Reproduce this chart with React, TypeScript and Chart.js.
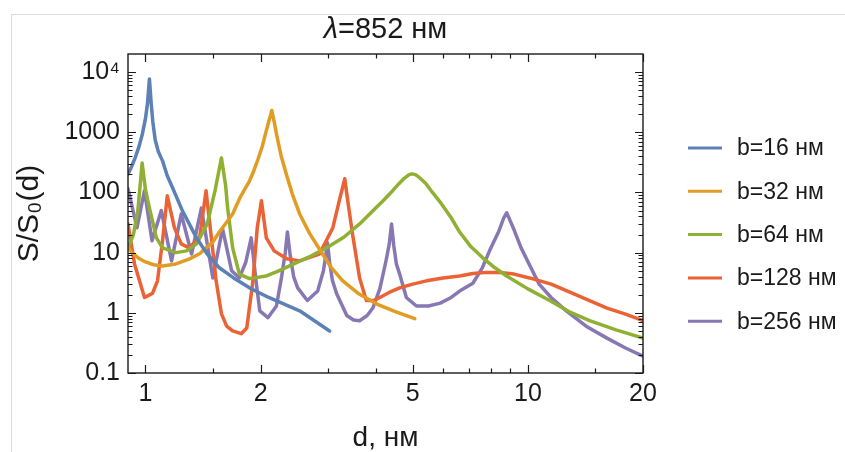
import React, { useEffect, useRef } from "react";
import { Chart, registerables } from "chart.js";

Chart.register(...registerables);

// ---- data ----
const seriesLabels = ["b=16 нм", "b=32 нм", "b=64 нм", "b=128 нм", "b=256 нм"];
const seriesColors = ["#5E81B5", "#E19C24", "#8FB032", "#EB6235", "#8778B3"];

const d16 = [0.9, 0.92, 0.94, 0.96, 0.98, 1.0, 1.012, 1.024, 1.035, 1.045, 1.06, 1.08, 1.108, 1.14, 1.177, 1.25, 1.36, 1.45, 1.56, 1.7, 1.87, 2.1, 2.53, 3.03];
const s16 = [200, 270, 380, 560, 900, 1700, 3000, 7700, 3000, 1500, 750, 480, 335, 190, 120, 49, 17.6, 9.5, 5.6, 3.8, 2.6, 1.8, 1.08, 0.5];

const d32 = [0.9, 0.93, 0.965, 1.0, 1.05, 1.11, 1.2, 1.3, 1.385, 1.44, 1.5, 1.56, 1.63, 1.69, 1.76, 1.82, 1.87, 1.92, 1.97, 2.02, 2.06, 2.1, 2.14, 2.18, 2.2, 2.26, 2.33, 2.42, 2.53, 2.69, 2.85, 3.05, 3.28, 3.6, 4.03, 4.5, 5.06];
const s32 = [12, 9.5, 7.9, 7, 6.3, 6, 6.5, 7.8, 9.6, 12, 15, 22, 32, 44, 78, 115, 155, 230, 360, 580, 950, 1500, 2300, 1300, 940, 420, 210, 95, 44, 20.5, 11.5, 5.8, 3.4, 2.1, 1.4, 1.05, 0.8];

const d64 = [0.9, 0.93, 0.955, 0.98, 1.0, 1.024, 1.068, 1.108, 1.2, 1.28, 1.36, 1.45, 1.52, 1.58, 1.62, 1.64, 1.69, 1.76, 1.87, 2.07, 2.2, 2.42, 2.7, 2.97, 3.3, 3.63, 4.0, 4.2, 4.43, 4.6, 4.75, 4.88, 4.97, 5.08, 5.2, 5.4, 5.63, 5.89, 6.3, 6.63, 7.1, 7.62, 8.2, 8.8, 10, 11.4, 12.8, 14.5, 17, 20];
const s64 = [12, 20, 50, 310, 110, 55, 17.6, 12, 10, 10.7, 14, 30, 107, 375, 130, 55, 12, 4.4, 3.7, 4.1, 4.8, 6.3, 8.7, 12, 18, 30, 55, 75, 107, 140, 172, 196, 204, 198, 178, 142, 100, 70, 38, 22, 12.5, 8.2, 5.6, 4.1, 2.5, 1.6, 1.05, 0.74, 0.52, 0.38];

const d128 = [0.9, 0.936, 0.994, 1.043, 1.075, 1.108, 1.14, 1.19, 1.24, 1.3, 1.385, 1.44, 1.49, 1.53, 1.58, 1.63, 1.69, 1.78, 1.84, 1.91, 1.96, 2.01, 2.07, 2.17, 2.34, 2.53, 2.85, 3.09, 3.21, 3.32, 3.38, 3.48, 3.63, 3.78, 3.95, 4.1, 4.35, 4.62, 5.0, 5.43, 6.0, 6.63, 7.18, 7.8, 8.45, 9.2, 10.1, 11.5, 13.1, 14.5, 16.1, 18, 20];
const s128 = [30, 6.5, 1.8, 2.1, 3.4, 15.7, 88, 26, 14, 12, 17.6, 107, 15.7, 3.4, 0.96, 0.6, 0.5, 0.45, 0.56, 3.4, 26, 73, 17.6, 10.7, 7.9, 7.3, 9.5, 26, 72, 169, 72, 20, 3.8, 1.6, 1.6, 1.8, 2.2, 2.6, 3.0, 3.4, 3.8, 4.1, 4.5, 4.7, 4.7, 4.4, 3.8, 3.0, 2.1, 1.6, 1.2, 0.95, 0.74];

const d256 = [0.9, 0.95, 0.994, 1.04, 1.1, 1.17, 1.24, 1.32, 1.4, 1.5, 1.59, 1.68, 1.76, 1.83, 1.89, 1.95, 1.99, 2.09, 2.2, 2.27, 2.32, 2.35, 2.39, 2.44, 2.5, 2.65, 2.82, 2.92, 2.96, 2.99, 3.03, 3.08, 3.16, 3.36, 3.5, 3.63, 3.8, 3.93, 4.1, 4.25, 4.34, 4.4, 4.46, 4.53, 4.62, 4.81, 5.11, 5.5, 5.9, 6.3, 6.63, 7.18, 7.6, 8.0, 8.4, 8.65, 8.8, 8.95, 9.2, 9.6, 10.2, 10.7, 11.5, 12.6, 14.2, 16.1, 18, 20];
const s256 = [115, 26, 107, 15.7, 50, 7.3, 44, 9.5, 55, 3.8, 25, 5, 3.8, 7, 17.6, 3, 1.08, 0.83, 1.3, 4, 10, 22, 9, 4, 2.6, 1.6, 2.3, 5, 9, 14.6, 7, 3.5, 2.1, 0.9, 0.76, 0.74, 0.9, 1.2, 2.5, 7, 14, 30, 13, 6.5, 4.4, 1.8, 1.3, 1.3, 1.45, 1.8, 2.3, 3.1, 5.6, 12, 23, 38, 46, 36, 24, 12, 5.5, 3.0, 1.8, 1.08, 0.6, 0.38, 0.26, 0.19];

const seriesD = [d16, d32, d64, d128, d256];
const seriesS = [s16, s32, s64, s128, s256];

const xMin = 0.9;
const xMax = 20;
const yMin = 0.1;
const yMax = 20000;
const xTickValues = [1, 2, 5, 10, 20];
const xTickLabels = ["1", "2", "5", "10", "20"];
const xMinorTicks = [1.5, 3, 4, 6, 7, 8, 9, 15];
const yTickValues = [0.1, 1, 10, 100, 1000, 10000];
const yTickLabels = ["0.1", "1", "10", "100", "1000", "10⁴"];

const titleLambda = "λ";
const titleRest = "=852 нм";
const xTitle = "d, нм";
const yTitle = "S/S₀(d)";

const FONT = "'Liberation Sans', Arial, Helvetica, sans-serif";
const INK = "#1a1a1a";

const framePlugin = {
  id: "frameTicks",
  afterDatasetsDraw(chart: any) {
    const { ctx, chartArea: a } = chart;
    const xs = chart.scales.x;
    const ys = chart.scales.y;
    ctx.save();
    ctx.strokeStyle = INK;
    ctx.lineWidth = 1.4;
    ctx.strokeRect(a.left, a.top, a.right - a.left, a.bottom - a.top);
    const major = 8;
    const minor = 4.5;
    ctx.lineWidth = 1.2;
    ctx.beginPath();
    const xt = (v: number, len: number) => {
      const px = Math.round(xs.getPixelForValue(v)) + 0.5;
      ctx.moveTo(px, a.bottom);
      ctx.lineTo(px, a.bottom - len);
      ctx.moveTo(px, a.top);
      ctx.lineTo(px, a.top + len);
    };
    const yt = (v: number, len: number) => {
      const py = Math.round(ys.getPixelForValue(v)) + 0.5;
      ctx.moveTo(a.left, py);
      ctx.lineTo(a.left + len, py);
      ctx.moveTo(a.right, py);
      ctx.lineTo(a.right - len, py);
    };
    xTickValues.forEach((v) => xt(v, major));
    xMinorTicks.forEach((v) => xt(v, minor));
    yTickValues.forEach((v) => yt(v, major));
    for (let e = -1; e <= 4; e++) {
      for (let m = 2; m <= 9; m++) {
        const v = m * Math.pow(10, e);
        if (v < yMax) yt(v, minor);
      }
    }
    ctx.stroke();
    ctx.restore();
  },
};

const titlePlugin = {
  id: "customTitle",
  afterDraw(chart: any) {
    const { ctx, chartArea: a } = chart;
    ctx.save();
    ctx.fillStyle = INK;
    ctx.textBaseline = "middle";
    const italic = `italic 29px ${FONT}`;
    const normal = `29px ${FONT}`;
    ctx.font = italic;
    const w1 = ctx.measureText(titleLambda).width;
    ctx.font = normal;
    const w2 = ctx.measureText(titleRest).width;
    const cx = (a.left + a.right) / 2;
    const x = cx - (w1 + w2) / 2;
    const y = 30;
    ctx.font = italic;
    ctx.textAlign = "left";
    ctx.fillText(titleLambda, x, y);
    ctx.font = normal;
    ctx.fillText(titleRest, x + w1, y);
    ctx.restore();
  },
};

const legendPlugin = {
  id: "customLegend",
  afterDraw(chart: any) {
    const { ctx } = chart;
    ctx.save();
    ctx.font = `23px ${FONT}`;
    ctx.textBaseline = "middle";
    ctx.textAlign = "left";
    chart.data.datasets.forEach((ds: any, i: number) => {
      const y = 148 + i * 43.3;
      ctx.strokeStyle = ds.borderColor;
      ctx.lineWidth = 3;
      ctx.beginPath();
      ctx.moveTo(688, y);
      ctx.lineTo(722, y);
      ctx.stroke();
      ctx.fillStyle = INK;
      ctx.fillText(ds.label, 737, y + 1);
    });
    ctx.restore();
  },
};

export default function App() {
  const ref = useRef<HTMLCanvasElement | null>(null);

  useEffect(() => {
    if (!ref.current) return;
    const datasets = seriesLabels.map((label, i) => ({
      label,
      data: seriesD[i].map((d, j) => ({ x: d, y: seriesS[i][j] })),
      borderColor: seriesColors[i],
      backgroundColor: seriesColors[i],
      borderWidth: 3.5,
      borderJoinStyle: "round" as const,
      borderCapStyle: "round" as const,
      pointRadius: 0,
      tension: 0,
      fill: false,
    }));
    const chart = new Chart(ref.current, {
      type: "line",
      data: { datasets },
      options: {
        responsive: false,
        animation: false,
        layout: { padding: { top: 54, right: 202, left: 0, bottom: 0 } },
        plugins: {
          legend: { display: false },
          title: { display: false },
          tooltip: { enabled: false },
        },
        scales: {
          x: {
            type: "logarithmic",
            min: xMin,
            max: xMax,
            afterBuildTicks: (s: any) => {
              s.ticks = xTickValues.map((v) => ({ value: v }));
            },
            afterFit: (s: any) => {
              s.height = 79;
            },
            ticks: {
              autoSkip: false,
              maxRotation: 0,
              padding: 6,
              color: INK,
              font: { family: FONT, size: 25 },
              callback: (_v: any, i: number) => xTickLabels[i],
            },
            grid: { display: false, drawTicks: false },
            border: { display: false },
            title: {
              display: true,
              text: xTitle,
              color: INK,
              font: { family: FONT, size: 28, lineHeight: 1 },
              padding: { top: 0, bottom: 0 },
            },
          },
          y: {
            type: "logarithmic",
            min: yMin,
            max: yMax,
            afterBuildTicks: (s: any) => {
              s.ticks = yTickValues.map((v) => ({ value: v }));
            },
            afterFit: (s: any) => {
              s.width = 128;
            },
            ticks: {
              autoSkip: false,
              padding: 8,
              color: INK,
              font: { family: FONT, size: 25 },
              callback: (_v: any, i: number) => yTickLabels[i],
            },
            grid: { display: false, drawTicks: false },
            border: { display: false },
            title: {
              display: true,
              text: yTitle,
              color: INK,
              font: { family: FONT, size: 30, lineHeight: 1.2 },
              padding: { top: 12, bottom: 0 },
            },
          },
        },
      },
      plugins: [framePlugin, titlePlugin, legendPlugin],
    } as any);
    return () => chart.destroy();
  }, []);

  return (
    <div
      style={{
        position: "fixed",
        left: 0,
        top: 0,
        width: 845,
        height: 452,
        background: "#fff",
        overflow: "hidden",
      }}
    >
      <div
        style={{
          position: "absolute",
          left: 11,
          top: 14,
          width: 900,
          height: 500,
          borderLeft: "1px solid #dcdcdc",
          borderTop: "1px solid #dcdcdc",
        }}
      />
      <canvas
        ref={ref}
        width={845}
        height={452}
        style={{ position: "absolute", left: 0, top: 0, display: "block" }}
      />
    </div>
  );
}
